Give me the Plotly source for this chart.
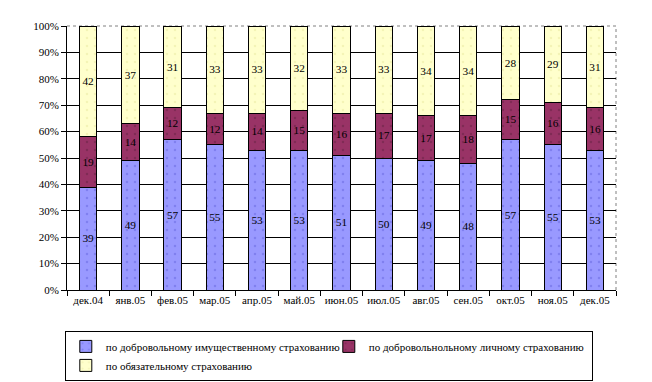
import plotly.graph_objects as go

months = ["дек.04", "янв.05", "фев.05", "мар.05", "апр.05", "май.05", "июн.05",
          "июл.05", "авг.05", "сен.05", "окт.05", "ноя.05", "дек.05"]
voluntary_property = [39, 49, 57, 55, 53, 53, 51, 50, 49, 48, 57, 55, 53]
voluntary_personal = [19, 14, 12, 12, 14, 15, 16, 17, 17, 18, 15, 16, 16]
mandatory = [42, 37, 31, 33, 33, 32, 33, 33, 34, 34, 28, 29, 31]

names = ["по добровольному имущественному страхованию",
         "по добровольнольному личному страхованию",
         "по обязательному страхованию"]
colors = ["#9999FF", "#993366", "#FFFFCC"]
dots = ["#6666DD", "#662244", "#E8E8A0"]
series = [voluntary_property, voluntary_personal, mandatory]

FONT = '"Times New Roman", "Liberation Serif", "DejaVu Serif", serif'

fig = go.Figure()
for name, vals, c, d in zip(names, series, colors, dots):
    fig.add_trace(go.Bar(
        x=months, y=vals, name=name,
        text=[str(v) for v in vals],
        textposition="inside", insidetextanchor="middle",
        textfont=dict(family=FONT, size=12, color="#000000"),
        marker=dict(color=c, line=dict(color="#000000", width=1),
                    pattern=dict(shape=".", fgcolor=d, bgcolor=c, size=8, solidity=0.08)),
        cliponaxis=False,
    ))

fig.update_layout(
    barmode="stack",
    bargap=0.59,
    width=644, height=374,
    margin=dict(l=59, r=36, t=18, b=92, autoexpand=False),
    paper_bgcolor="white", plot_bgcolor="white",
    font=dict(family=FONT, size=11, color="#000000"),
    showlegend=True,
    legend=dict(
        orientation="h", x=-0.004, xanchor="left", y=-0.155, yanchor="top",
        bordercolor="#000000", borderwidth=1, bgcolor="white",
        font=dict(family=FONT, size=11, color="#000000"),
        traceorder="normal", itemwidth=30, tracegroupgap=0,
        entrywidth=218, entrywidthmode="pixels",
    ),
    uniformtext=dict(mode=False),
)
fig.update_xaxes(
    type="category", showline=True, linecolor="#000000", linewidth=1,
    ticks="outside", tickson="boundaries", ticklen=5, tickcolor="#000000",
    showgrid=False, tickfont=dict(family=FONT, size=11), tickangle=0,
    automargin=False,
)
fig.update_yaxes(
    range=[0, 100], tickvals=list(range(0, 101, 10)),
    ticktext=[f"{v}%" for v in range(0, 101, 10)],
    showline=True, linecolor="#000000", linewidth=1,
    ticks="outside", ticklen=5, tickcolor="#000000",
    showgrid=True, gridcolor="#000000", gridwidth=1,
    zeroline=False, tickfont=dict(family=FONT, size=11), automargin=False,
)
# dotted gray frame on top and right of the plot area
fig.add_shape(type="line", xref="paper", yref="paper", x0=0, x1=1, y0=1, y1=1,
              line=dict(color="white", width=2), layer="between")
fig.add_shape(type="line", xref="paper", yref="paper", x0=0, x1=1, y0=1, y1=1,
              line=dict(color="#808080", width=1, dash="dot"), layer="between")
fig.add_shape(type="line", xref="paper", yref="paper", x0=1, x1=1, y0=0, y1=1,
              line=dict(color="#808080", width=1, dash="dot"), layer="between")

fig.write_html("out.html")
